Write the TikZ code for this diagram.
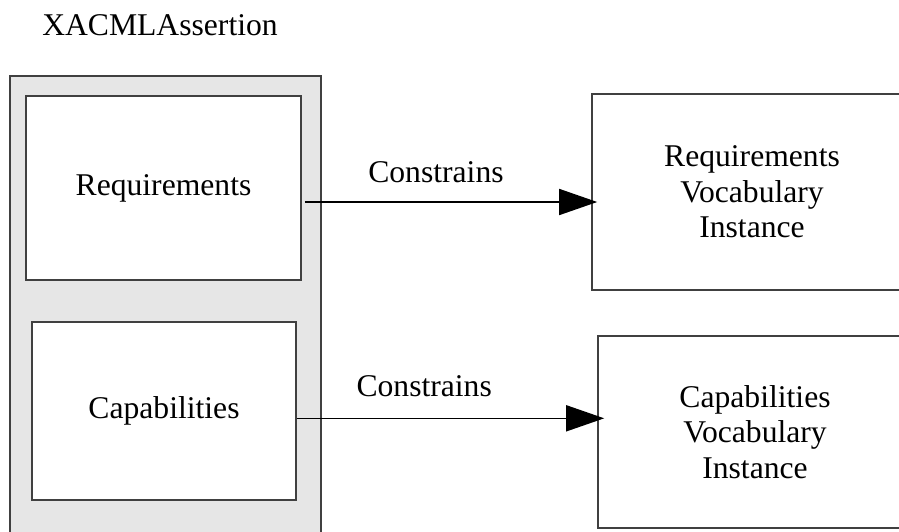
\documentclass[tikz,border=0pt]{standalone}
\usepackage{fontspec}
\setmainfont{Liberation Serif}
\usetikzlibrary{arrows.meta}
\definecolor{panelgrey}{RGB}{230,230,230}

\begin{document}
\begin{tikzpicture}[
    font=\fontsize{9}{10.1}\selectfont,
    box/.style={draw=black!75, line width=0.45pt, fill=white, inner sep=0pt, align=center},
    conn/.style={-{Triangle[length=3.8mm,width=2.6mm]}, line width=0.45pt},
    lbl/.style={anchor=base}
]
    % Page
    \useasboundingbox (0,0) rectangle (8.99,-5.31);
    \clip (0,0) rectangle (8.99,-5.31);

    % Titre
    \node[lbl] (title) at (1.60,-0.357) {XACMLAssertion};

    % Conteneur (fond gris, coupe en bas)
    \draw[draw=black!75, line width=0.45pt, fill=panelgrey] (0.10,-0.76) rectangle (3.21,-5.50);

    % Boites de gauche
    \node[box, minimum width=2.75cm, minimum height=1.84cm] (req) at (1.635,-1.88) {Requirements};
    \node[box, minimum width=2.64cm, minimum height=1.78cm] (cap) at (1.64,-4.11) {Capabilities};

    % Boites de droite (coupees a droite)
    \node[box, minimum width=3.20cm, minimum height=1.96cm] (reqvoc) at (7.52,-1.92) {Requirements\\Vocabulary\\Instance};
    \node[box, minimum width=3.14cm, minimum height=1.92cm] (capvoc) at (7.55,-4.32) {Capabilities\\Vocabulary\\Instance};

    % Fleches
    \coordinate (reqout) at ([xshift=0.3mm, yshift=-1.4mm]req.east);
    \draw[conn, shorten >=-0.6mm] (reqout) -- (reqout -| reqvoc.west)
        node[lbl, pos=0.458, yshift=2mm] (lblreq) {Constrains};
    \coordinate (capout) at ([yshift=-0.73mm]cap.east);
    \draw[conn, shorten >=-0.7mm] (capout) -- (capout -| capvoc.west)
        node[lbl, pos=0.424, yshift=2.2mm] (lblcap) {Constrains};
\end{tikzpicture}
\end{document}
